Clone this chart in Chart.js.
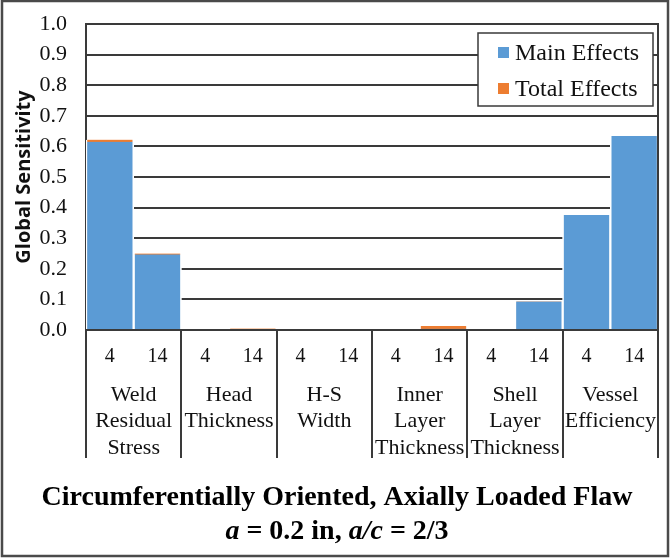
<!DOCTYPE html>
<html>
<head>
<meta charset="utf-8">
<script src="https://cdn.jsdelivr.net/npm/chart.js@4/dist/chart.umd.min.js"></script>
<style>
  html, body { margin: 0; padding: 0; background: #fff; }
  #wrap { width: 670px; height: 558px; }
</style>
</head>
<body>
<div id="wrap"><canvas id="c" width="670" height="558"></canvas></div>
<script>
// Sub-category (model) labels under each bar
const subLabels = ['4', '14', '4', '14', '4', '14', '4', '14', '4', '14', '4', '14'];
// Input parameter groups, two bars per group
const groupLabels = [
  ['Weld', 'Residual', 'Stress'],
  ['Head', 'Thickness'],
  ['H-S', 'Width'],
  ['Inner', 'Layer', 'Thickness'],
  ['Shell', 'Layer', 'Thickness'],
  ['Vessel', 'Efficiency']
];
// Sensitivity indices
const mainEffects  = [0.615, 0.247, 0, 0.000, 0, 0, 0, 0.004, 0, 0.093, 0.376, 0.634];
const totalEffects = [0.622, 0.250, 0, 0.005, 0, 0, 0, 0.013, 0, 0.093, 0.376, 0.634];
const yTicks = [0, 0.1, 0.2, 0.3, 0.4, 0.5, 0.6, 0.7, 0.8, 0.9, 1.0];

const BLUE = '#5b9bd5';
const ORANGE = '#ed7d31';
const LINE = '#3a3a3a';
const TEXT = '#111111';
const SERIF = '"Liberation Serif", "Times New Roman", serif';

const decorations = {
  id: 'decorations',
  afterDraw(chart) {
    const ctx = chart.ctx;
    const area = chart.chartArea;
    const x = chart.scales.x;
    ctx.save();

    // right edge of the plot box
    ctx.strokeStyle = LINE;
    ctx.lineWidth = 2;
    ctx.beginPath();
    ctx.moveTo(area.right, area.top - 1);
    ctx.lineTo(area.right, area.bottom);
    ctx.stroke();

    // group dividers below the axis
    const nGroups = groupLabels.length;
    for (let k = 0; k <= nGroups; k++) {
      const px = Math.round(x.getPixelForValue(k * 2 - 0.5));
      ctx.beginPath();
      ctx.moveTo(px, area.bottom);
      ctx.lineTo(px, area.bottom + 128);
      ctx.stroke();
    }

    // legend box
    const lx = 478, ly = 33, lw = 175, lh = 73;
    ctx.fillStyle = '#fff';
    ctx.fillRect(lx, ly, lw, lh);
    ctx.lineWidth = 1.5;
    ctx.strokeRect(lx, ly, lw, lh);
    const items = [chart.data.datasets[0], chart.data.datasets[1]];
    ctx.font = '24px ' + SERIF;
    ctx.textBaseline = 'middle';
    ctx.textAlign = 'left';
    items.forEach((ds, i) => {
      const cy = ly + 20 + i * 36;
      ctx.fillStyle = ds.backgroundColor;
      ctx.fillRect(lx + 20, cy - 6, 11, 11);
      ctx.fillStyle = TEXT;
      ctx.fillText(ds.label, lx + 37, cy + 1);
    });

    // caption under the chart
    const cx = chart.width / 2 + 2;
    ctx.fillStyle = '#000';
    ctx.textAlign = 'center';
    ctx.textBaseline = 'alphabetic';
    ctx.font = 'bold 28px ' + SERIF;
    ctx.fillText('Circumferentially Oriented, Axially Loaded Flaw', cx, 505);

    const runs = [
      { t: 'a', it: true }, { t: ' = 0.2 in, ', it: false },
      { t: 'a/c', it: true }, { t: ' = 2/3', it: false }
    ];
    const fontOf = r => (r.it ? 'italic bold 28px ' : 'bold 28px ') + SERIF;
    let total = 0;
    runs.forEach(r => { ctx.font = fontOf(r); total += ctx.measureText(r.t).width; });
    let px = cx - total / 2;
    ctx.textAlign = 'left';
    runs.forEach(r => {
      ctx.font = fontOf(r);
      ctx.fillText(r.t, px, 539);
      px += ctx.measureText(r.t).width;
    });

    // outer frame
    ctx.strokeStyle = '#4a4a4a';
    ctx.lineWidth = 2.5;
    ctx.strokeRect(2, 1, chart.width - 4, chart.height - 3);
    ctx.restore();
  }
};

const barBorder = { left: 1.5, right: 1.5, top: 0, bottom: 0 };

new Chart(document.getElementById('c'), {
  type: 'bar',
  data: {
    labels: subLabels,
    datasets: [
      {
        label: 'Main Effects',
        data: mainEffects,
        backgroundColor: BLUE,
        borderColor: '#ffffff',
        borderWidth: barBorder,
        borderSkipped: false,
        grouped: false,
        order: 1,
        barPercentage: 1,
        categoryPercentage: 1
      },
      {
        label: 'Total Effects',
        data: totalEffects,
        backgroundColor: ORANGE,
        borderColor: '#ffffff',
        borderWidth: barBorder,
        borderSkipped: false,
        grouped: false,
        order: 2,
        barPercentage: 1,
        categoryPercentage: 1
      }
    ]
  },
  options: {
    responsive: false,
    devicePixelRatio: 1,
    animation: false,
    layout: { padding: { top: 24, left: 0, right: 12, bottom: 90 } },
    plugins: {
      legend: { display: false },
      tooltip: { enabled: false },
      title: { display: false }
    },
    scales: {
      y: {
        min: 0,
        max: 1,
        afterBuildTicks: axis => { axis.ticks = yTicks.map(v => ({ value: v })); },
        afterFit: axis => {
          axis.width = 86;
          axis.paddingTop = 0;
          axis.paddingBottom = 0;
        },
        ticks: {
          color: TEXT,
          padding: 19,
          font: { family: SERIF, size: 22 },
          callback: v => Number(v).toFixed(1)
        },
        grid: { color: LINE, lineWidth: 2, drawTicks: false },
        border: { display: true, color: LINE, width: 2 },
        title: {
          display: true,
          text: 'Global Sensitivity',
          color: TEXT,
          font: { family: '"Open Sans", sans-serif', size: 20, weight: 'bold' },
          padding: { top: 12, bottom: 0 }
        }
      },
      x: {
        position: 'bottom',
        afterFit: axis => { axis.height = 40; },
        grid: { display: false, drawTicks: false },
        border: { display: true, color: LINE, width: 2 },
        ticks: {
          color: TEXT,
          padding: 15,
          maxRotation: 0,
          autoSkip: false,
          font: { family: SERIF, size: 20 }
        }
      },
      groups: {
        type: 'category',
        position: 'bottom',
        labels: groupLabels,
        offset: true,
        afterFit: axis => { axis.height = 98; },
        grid: { display: false, drawTicks: false },
        border: { display: false },
        ticks: {
          color: TEXT,
          padding: 12,
          maxRotation: 0,
          autoSkip: false,
          font: { family: SERIF, size: 22, lineHeight: 1.2 }
        }
      }
    }
  },
  plugins: [decorations]
});
</script>
</body>
</html>
